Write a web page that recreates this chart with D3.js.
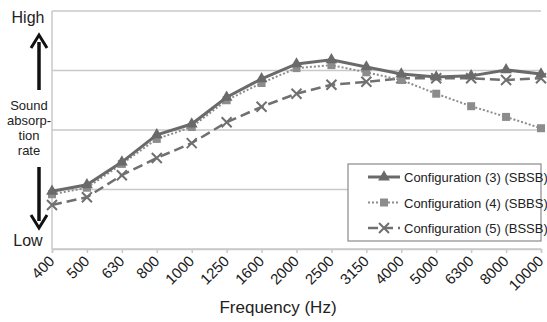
<!DOCTYPE html>
<html>
<head>
<meta charset="utf-8">
<script src="https://cdn.jsdelivr.net/npm/d3@7"></script>
<style>
  body { margin: 0; background: #fff; }
  svg { font-family: "Liberation Sans", Arial, sans-serif; }
</style>
</head>
<body>
<svg></svg>
<script>
const svg = d3.select("svg");
const width = 547;
const height = 322;
svg.attr("width", width).attr("height", height);

// 주파수 (x축 카테고리)
const frequencies = ["400", "500", "630", "800", "1000", "1250", "1600", "2000",
  "2500", "3150", "4000", "5000", "6300", "8000", "10000"];

// 흡음률 (상대값, 0 = Low, 4 = High)
const config3 = [0.97, 1.08, 1.46, 1.92, 2.10, 2.55, 2.86, 3.11, 3.18, 3.06, 2.94, 2.89, 2.91, 3.01, 2.94];
const config4 = [0.92, 1.03, 1.43, 1.85, 2.05, 2.50, 2.79, 3.04, 3.09, 2.97, 2.84, 2.61, 2.40, 2.22, 2.03];
const config5 = [0.74, 0.87, 1.24, 1.53, 1.78, 2.13, 2.39, 2.61, 2.76, 2.81, 2.87, 2.87, 2.87, 2.84, 2.87];

const gridValues = [0, 1, 2, 3, 4];
const seriesNames = ["Configuration (3) (SBSB)", "Configuration (4) (SBBS)", "Configuration (5) (BSSB)"];

const margin = { left: 52, right: 6, top: 11, bottom: 73 };
const graphWidth = width - margin.left - margin.right;
const graphHeight = height - margin.top - margin.bottom;

const xScale = d3.scalePoint().domain(frequencies).range([0, graphWidth]);
const yScale = d3.scaleLinear().domain([0, 4]).range([graphHeight, 0]);

const g = svg.append("g").attr("transform", `translate(${margin.left}, ${margin.top})`);

// 그리드
g.append("g")
  .selectAll("line")
  .data(gridValues)
  .enter()
  .append("line")
  .attr("x1", 0)
  .attr("x2", graphWidth)
  .attr("y1", (d) => yScale(d))
  .attr("y2", (d) => yScale(d))
  .attr("stroke", "#c9c9c9")
  .attr("stroke-width", 1.5);

// 왼쪽 축선
g.append("line")
  .attr("x1", 0).attr("x2", 0)
  .attr("y1", 0).attr("y2", graphHeight)
  .attr("stroke", "#c9c9c9")
  .attr("stroke-width", 1.5);

// x축
const xAxis = d3.axisBottom(xScale).tickSize(4).tickPadding(4);
const xAxisG = g.append("g").attr("transform", `translate(0, ${graphHeight})`).call(xAxis);
xAxisG.select(".domain").attr("stroke", "#c9c9c9").attr("stroke-width", 1.5);
xAxisG.selectAll(".tick line").attr("stroke", "#c9c9c9").attr("stroke-width", 1.5);
xAxisG.selectAll(".tick text")
  .attr("font-size", 15)
  .attr("fill", "#1a1a1a")
  .attr("text-anchor", "end")
  .attr("dy", null)
  .attr("y", 0)
  .attr("transform", "translate(3, 13) rotate(-45)");

svg.append("text")
  .attr("x", 278)
  .attr("y", 313)
  .attr("text-anchor", "middle")
  .attr("font-size", 17)
  .attr("fill", "#222")
  .text("Frequency (Hz)");

// 시리즈
const series = [
  { name: seriesNames[0], values: config3, color: "#6a6a6a", width: 3, dash: null, marker: "triangle" },
  { name: seriesNames[1], values: config4, color: "#8c8c8c", width: 2, dash: "2,2", marker: "square" },
  { name: seriesNames[2], values: config5, color: "#707070", width: 2.5, dash: "10,5", marker: "cross" },
];

const line = d3.line()
  .x((d, i) => xScale(frequencies[i]))
  .y((d) => yScale(d));

const drawMarker = (sel, s, x, y) => {
  if (s.marker === "triangle") {
    sel.append("path")
      .attr("d", d3.symbol(d3.symbolTriangle, 60)())
      .attr("transform", `translate(${x}, ${y})`)
      .attr("fill", s.color);
  } else if (s.marker === "square") {
    sel.append("rect")
      .attr("x", x - 4).attr("y", y - 4)
      .attr("width", 8).attr("height", 8)
      .attr("fill", s.color);
  } else {
    sel.append("path")
      .attr("d", `M${x - 5},${y - 5}L${x + 5},${y + 5}M${x - 5},${y + 5}L${x + 5},${y - 5}`)
      .attr("stroke", s.color)
      .attr("stroke-width", 2);
  }
};

series.slice().reverse().forEach((s) => {
  g.append("path")
    .datum(s.values)
    .attr("d", line)
    .attr("fill", "none")
    .attr("stroke", s.color)
    .attr("stroke-width", s.width)
    .attr("stroke-dasharray", s.dash);
  const mg = g.append("g");
  s.values.forEach((v, i) => drawMarker(mg, s, xScale(frequencies[i]), yScale(v)));
});

// 범례
const legend = svg.append("g").attr("transform", "translate(348, 164)");
legend.append("rect")
  .attr("width", 193).attr("height", 77)
  .attr("fill", "#fff")
  .attr("stroke", "#8a8a8a")
  .attr("stroke-width", 1.2);

series.forEach((s, i) => {
  const ly = 13 + i * 25.5;
  legend.append("line")
    .attr("x1", 20).attr("x2", 52)
    .attr("y1", ly).attr("y2", ly)
    .attr("stroke", s.color)
    .attr("stroke-width", s.width)
    .attr("stroke-dasharray", s.dash);
  drawMarker(legend, s, 36, ly);
  legend.append("text")
    .attr("x", 56)
    .attr("y", ly + 5)
    .attr("font-size", 13)
    .attr("fill", "#222")
    .text(s.name);
});

// 왼쪽 라벨 (High / Low, 화살표)
const left = svg.append("g");
left.append("text").attr("x", 28).attr("y", 23).attr("text-anchor", "middle")
  .attr("font-size", 16).attr("fill", "#222").text("High");
left.append("text").attr("x", 28).attr("y", 246).attr("text-anchor", "middle")
  .attr("font-size", 16).attr("fill", "#222").text("Low");

const arrowColor = "#111";
left.append("line").attr("x1", 39).attr("x2", 39).attr("y1", 42).attr("y2", 90)
  .attr("stroke", arrowColor).attr("stroke-width", 3.5);
left.append("path").attr("d", "M31,48L39,35L47,48").attr("fill", "none")
  .attr("stroke", arrowColor).attr("stroke-width", 3);
left.append("line").attr("x1", 39).attr("x2", 39).attr("y1", 167).attr("y2", 221)
  .attr("stroke", arrowColor).attr("stroke-width", 3.5);
left.append("path").attr("d", "M31,215L39,228L47,215").attr("fill", "none")
  .attr("stroke", arrowColor).attr("stroke-width", 3);

const labelLines = ["Sound", "absorp-", "tion", "rate"];
left.selectAll(".side")
  .data(labelLines)
  .enter()
  .append("text")
  .attr("class", "side")
  .attr("x", 29)
  .attr("y", (d, i) => 110 + i * 15)
  .attr("text-anchor", "middle")
  .attr("font-size", 13)
  .attr("fill", "#222")
  .text((d) => d);
</script>
</body>
</html>
